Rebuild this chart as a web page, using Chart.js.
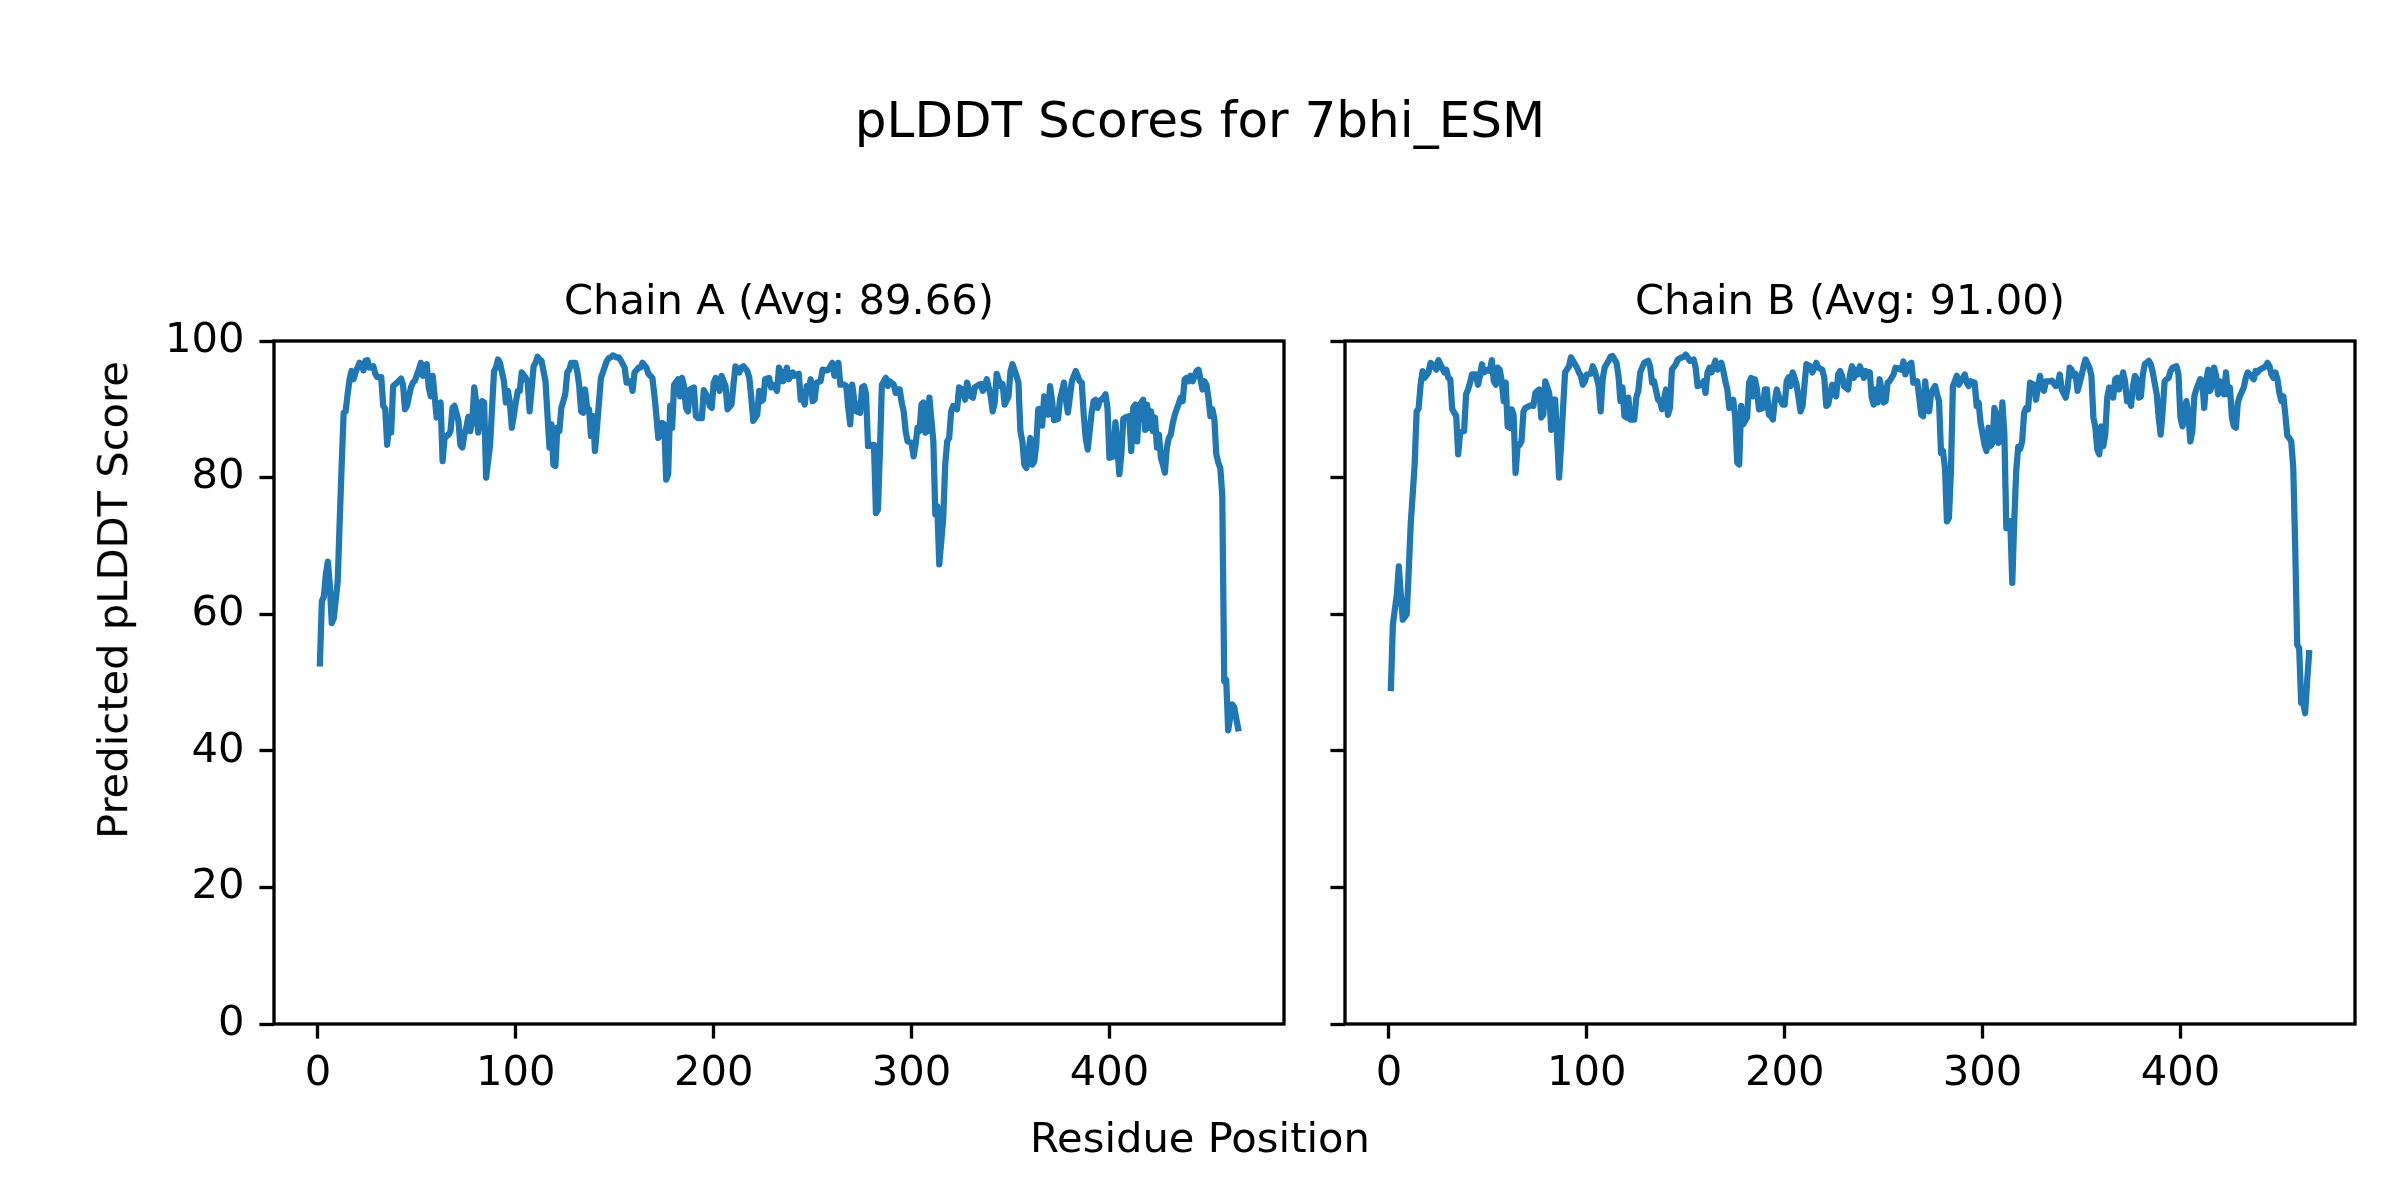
<!DOCTYPE html>
<html>
<head>
<meta charset="utf-8">
<title>pLDDT Scores for 7bhi_ESM</title>
<script src="https://cdn.jsdelivr.net/npm/chart.js"></script>
<style>
  html, body { margin: 0; padding: 0; background: #fff; }
  #page { position: relative; width: 2400px; height: 1200px; overflow: hidden; font-family: "DejaVu Sans", sans-serif; color: #000; }
  canvas { position: absolute; top: 0; }
  #chartA { left: 0; }
  #chartB { left: 1300px; }
  .label { position: absolute; white-space: nowrap; }
  #suptitle { left: 0; width: 2400px; text-align: center; top: 94.7px; font-size: 50px; line-height: 50px; }
  #xlabel { left: 0; width: 2400px; text-align: center; top: 1116.8px; font-size: 41.67px; line-height: 41.67px; }
  #ylabel { left: 113.3px; top: 600px; font-size: 41.67px; line-height: 41.67px; transform: translate(-50%, -50%) rotate(-90deg); }
</style>
</head>
<body>
<div id="page">
  <div class="label" id="suptitle">pLDDT Scores for 7bhi_ESM</div>
  <canvas id="chartA" width="1300" height="1200"></canvas>
  <canvas id="chartB" width="1100" height="1200"></canvas>
  <div class="label" id="ylabel">Predicted pLDDT Score</div>
  <div class="label" id="xlabel">Residue Position</div>
</div>
<script>
// data
const chainTitles = ['Chain A (Avg: 89.66)', 'Chain B (Avg: 91.00)'];
const xTicks = [0, 100, 200, 300, 400];
const yTicks = [0, 20, 40, 60, 80, 100];

const chainAPos = [1,2,3,4,5,6,7,8,10,11,12,13,14,15,16,17,18,19,21,22,23,24,25,26,28,29,30,32,33,34,35,36,37,38,40,42,43,44,45,47,48,49,51,52,53,54,55,56,57,58,60,61,62,63,64,66,67,68,69,71,72,73,74,75,76,77,78,79,80,81,83,84,85,87,89,90,91,92,94,95,96,97,98,100,101,102,103,105,106,107,109,110,111,112,113,115,116,117,118,119,120,121,122,123,125,126,127,128,130,131,132,133,134,135,136,137,138,139,140,141,143,144,146,147,148,149,151,152,153,155,156,158,159,160,162,163,164,166,167,169,170,171,172,173,174,175,176,177,178,179,180,182,183,184,185,186,187,188,190,191,192,194,195,197,198,199,200,201,203,204,205,206,207,209,210,211,213,214,215,217,218,219,220,222,223,224,225,226,228,229,230,232,233,234,235,237,238,240,241,243,244,245,246,247,248,249,250,251,252,254,255,257,258,260,261,262,263,264,266,267,268,269,270,271,272,274,275,276,277,278,280,281,282,283,284,285,287,288,289,291,292,293,294,295,296,297,298,300,301,302,303,304,305,306,307,308,309,311,312,313,314,316,317,318,319,320,321,323,324,326,327,328,330,331,332,334,335,336,337,338,340,341,342,343,345,346,347,349,350,351,353,354,355,356,357,358,360,361,362,363,364,365,366,367,368,369,370,371,372,374,375,377,378,379,381,382,383,385,386,387,388,389,391,392,393,394,395,397,398,399,400,402,403,404,405,406,407,408,410,411,412,413,414,415,417,418,419,420,421,422,423,424,425,426,427,428,429,430,431,432,433,434,436,437,438,439,440,441,442,444,445,446,447,448,449,450,451,452,453,454,455,456,457,458,459,460,462,463,465];
const chainAScore = [52.8,61.9,62.6,65.8,67.7,64.3,58.7,59.4,64.8,73.6,81.9,89.5,89.7,92.2,94.4,95.6,94.4,95.4,96.8,96.6,95.7,97.1,97.2,96.1,96.3,95.2,94.7,94.7,90.5,90.1,84.8,87.8,86.6,93.4,93.9,94.5,93.6,90.0,90.5,93.2,93.9,94.2,95.8,96.8,94.9,96.3,96.6,93.2,91.9,94.9,88.8,90.7,91.0,82.4,85.8,86.3,86.8,90.2,90.5,88.3,84.8,84.4,86.3,87.3,88.9,86.8,88.3,93.2,91.0,86.6,91.2,91.0,80.0,84.8,95.6,96.1,97.3,96.8,94.1,91.0,92.7,91.0,87.3,91.0,92.7,92.7,95.4,94.6,93.9,89.7,96.3,96.8,97.7,97.3,97.1,94.1,89.2,84.4,87.8,81.9,81.7,87.3,86.8,90.2,92.2,95.4,95.8,96.8,96.8,95.6,93.6,89.7,89.5,92.9,90.2,90.0,86.1,89.0,83.9,87.3,94.6,95.4,97.1,97.5,97.6,97.9,97.6,97.6,97.2,96.1,93.9,94.1,92.7,95.4,96.1,96.1,96.8,96.1,95.2,94.6,92.2,89.2,85.8,86.3,88.0,87.8,79.7,80.5,90.5,87.3,93.6,94.4,91.9,94.6,93.4,90.2,89.7,92.9,93.2,89.0,88.7,88.7,92.8,91.7,90.5,90.2,93.9,94.6,92.7,94.9,94.1,93.4,90.0,90.7,93.6,96.3,95.4,96.1,96.3,95.6,94.6,91.7,88.3,89.2,92.7,91.2,91.4,94.4,94.6,93.2,93.6,92.7,96.1,95.4,94.1,96.1,94.4,95.4,94.9,95.2,91.4,91.7,90.7,93.4,92.9,94.4,91.2,91.4,93.9,94.1,95.8,95.7,95.8,96.8,94.9,95.7,96.8,93.6,93.6,93.4,90.2,87.8,93.6,91.4,89.7,89.5,93.2,93.4,92.2,84.6,84.8,84.8,74.8,75.3,83.9,93.6,94.6,93.4,94.1,93.6,92.4,92.9,92.9,91.0,89.7,86.8,85.3,85.1,83.1,84.8,87.3,86.8,90.7,91.0,86.6,86.8,91.7,85.3,74.6,75.8,67.3,74.1,81.9,85.3,85.8,89.7,90.5,90.0,93.2,92.8,91.4,93.9,91.9,91.7,93.2,93.6,93.7,92.7,93.4,94.4,91.9,89.7,91.0,95.2,93.4,93.7,90.7,91.9,95.6,96.6,94.9,93.9,86.8,85.3,81.9,81.4,85.8,81.9,82.4,84.8,90.0,90.1,87.6,91.9,91.7,89.2,93.4,91.2,88.4,88.6,91.4,93.9,91.4,89.5,94.1,94.9,95.6,94.1,93.9,89.2,85.8,84.1,89.5,91.2,91.4,90.2,91.2,91.7,92.2,90.2,82.9,83.1,88.1,84.4,80.5,83.4,88.6,88.8,89.0,83.9,90.2,90.7,85.3,90.5,91.4,87.0,90.7,87.3,89.7,86.8,88.8,84.4,86.3,82.9,81.9,80.7,84.4,85.8,86.3,88.0,89.2,90.0,91.7,91.2,94.4,94.6,94.1,94.9,94.1,95.6,95.8,94.4,92.9,94.1,93.6,91.7,89.0,90.0,88.6,83.4,82.2,81.4,77.5,50.2,50.4,43.0,46.8,46.4,43.3];

const chainBPos = [1,2,4,5,6,7,9,10,11,13,14,15,16,17,18,20,21,22,24,25,26,28,29,30,31,32,34,35,36,38,39,40,41,42,44,45,46,47,48,50,51,52,53,54,55,56,57,58,59,60,61,62,63,64,65,66,67,68,69,71,72,73,74,75,76,77,78,79,81,82,83,84,86,87,89,91,92,94,95,96,97,98,99,100,102,103,104,105,106,107,108,109,111,112,113,115,116,117,118,119,120,121,122,124,125,126,127,128,129,131,132,133,134,136,137,138,140,141,142,143,145,146,148,149,150,151,152,154,155,156,158,159,160,161,162,163,165,166,168,169,170,171,172,174,175,176,177,178,179,181,182,183,184,185,186,187,189,190,191,192,193,194,195,196,197,199,200,201,202,203,204,205,206,208,209,210,211,213,214,216,217,219,220,221,222,223,224,225,226,227,228,229,230,232,233,234,235,236,237,238,240,241,242,243,244,245,246,247,248,250,251,252,253,255,256,257,259,260,261,262,264,265,266,267,268,269,270,271,272,273,274,276,277,278,279,280,281,282,283,284,285,287,288,289,291,292,293,294,296,297,298,299,301,302,303,304,305,306,307,308,309,310,311,312,314,315,316,317,318,319,320,321,322,323,324,326,327,329,330,331,332,334,335,337,338,339,340,342,343,344,345,346,347,348,350,351,352,354,355,356,357,358,359,360,361,362,363,364,365,366,367,368,369,371,372,373,374,375,376,377,378,379,380,381,382,384,385,386,388,389,390,391,392,393,394,395,396,398,399,400,401,403,404,405,406,407,408,410,411,412,413,414,415,416,417,418,419,420,421,422,423,424,425,426,427,428,429,430,432,433,434,435,437,438,439,440,442,443,444,445,446,447,448,449,450,451,452,453,454,455,456,457,458,459,460,461,462,463,464,465];
const chainBScore = [49.2,58.5,62.9,67.0,62.9,59.2,60.0,66.3,73.1,81.9,89.7,90.1,93.6,95.6,94.6,95.4,96.8,96.6,95.8,97.2,96.6,95.4,95.8,94.6,94.4,90.0,89.0,83.4,86.6,86.8,92.2,92.9,93.9,95.1,95.1,93.6,94.9,96.6,95.4,95.8,95.6,97.2,94.1,93.6,96.1,95.8,94.1,91.2,93.9,87.5,87.3,90.0,89.2,80.7,84.6,84.8,85.3,89.7,90.2,90.5,90.6,90.5,92.4,92.7,92.9,88.8,89.2,94.1,92.4,87.0,91.4,91.4,80.0,84.8,95.4,96.3,97.6,96.6,96.1,95.4,94.9,93.6,94.1,95.1,95.2,96.3,95.6,94.6,93.4,89.7,94.4,96.1,97.1,97.7,97.8,96.8,94.9,91.2,93.2,89.0,88.8,91.7,88.5,88.5,91.7,92.7,95.4,96.1,96.8,97.1,96.3,93.9,94.1,91.4,91.2,90.0,92.9,89.2,90.2,95.8,96.6,97.3,97.6,97.7,98.0,97.6,97.1,97.3,96.1,93.4,93.6,94.1,92.4,95.4,96.1,95.4,97.1,95.8,96.8,95.6,94.1,92.9,90.2,91.4,88.8,82.2,81.9,90.5,87.8,88.8,93.9,94.6,91.9,94.4,92.9,90.0,90.2,92.9,92.9,89.2,89.0,88.5,91.2,92.9,91.9,90.7,90.7,94.1,94.7,93.4,95.4,94.6,93.6,89.7,90.5,93.6,96.6,96.3,95.4,96.8,96.1,95.8,94.6,90.5,90.7,92.2,93.6,92.2,91.9,95.1,95.6,94.9,93.4,92.9,95.1,96.3,94.6,95.8,95.1,96.3,94.6,95.6,95.1,95.4,91.7,90.7,92.9,91.0,94.4,91.0,91.2,93.9,94.1,95.1,96.1,96.0,95.8,97.0,95.1,96.3,96.8,93.9,93.9,94.1,91.7,89.2,89.0,94.1,91.2,89.7,92.4,93.4,92.2,91.2,83.6,83.9,81.4,73.6,74.1,80.9,93.4,94.9,93.6,94.1,95.1,93.9,93.4,94.1,93.9,90.5,91.0,88.0,84.8,83.9,87.3,84.6,85.1,90.2,89.2,85.1,85.3,91.0,86.5,72.6,73.6,64.6,73.6,80.9,84.5,84.2,85.3,89.5,90.2,90.0,93.9,93.6,91.4,94.9,93.4,92.7,94.1,94.1,94.2,93.4,93.6,95.1,92.9,91.7,93.2,96.1,95.8,94.9,95.2,92.7,94.9,96.3,97.3,96.1,94.9,88.8,87.3,84.1,83.4,87.5,84.6,86.3,91.7,93.2,92.9,91.7,94.4,94.6,92.9,95.4,94.1,91.2,91.7,90.5,93.4,94.9,94.4,91.7,91.9,95.1,96.6,97.1,96.6,95.4,92.2,88.8,86.3,89.7,94.1,94.4,94.6,95.6,96.1,96.3,95.1,88.8,87.5,91.2,89.0,85.3,86.8,91.9,92.9,94.4,94.1,90.2,94.1,95.8,92.7,93.6,96.1,94.9,92.2,94.1,92.9,92.2,95.4,92.2,93.2,88.8,87.5,87.3,91.0,91.9,93.2,94.6,95.4,95.1,94.4,95.6,95.4,95.8,96.1,96.3,96.8,96.3,95.1,94.6,95.4,94.4,92.4,91.2,91.9,89.2,86.1,85.8,85.3,81.4,69.7,55.5,55.0,47.0,47.0,45.5,50.1,54.3];

// matplotlib look, figure is 8x4 in at 300 dpi
const PT = 300 / 72;
const lineBlue = '#1f77b4';
Chart.defaults.font.family = 'DejaVu Sans';
Chart.defaults.color = '#000';

// draws the four spines around the plot area
const framePlugin = {
    id: 'frame',
    afterDraw(chart) {
        const a = chart.chartArea;
        const ctx = chart.ctx;
        ctx.save();
        ctx.strokeStyle = '#000';
        ctx.lineWidth = 0.8 * PT;
        ctx.strokeRect(a.left, a.top, a.right - a.left, a.bottom - a.top);
        ctx.restore();
    }
};

function makeChart(canvasId, title, pos, score, yAxisWidth, rightPad, showYLabels) {
    const points = pos.map((p, i) => ({ x: p, y: score[i] }));
    const tickFont = { family: 'DejaVu Sans', size: 10 * PT };

    return new Chart(document.getElementById(canvasId), {
        type: 'line',
        data: {
            datasets: [{
                data: points,
                borderColor: lineBlue,
                borderWidth: 1.5 * PT,
                borderJoinStyle: 'round',
                borderCapStyle: 'square',
                pointRadius: 0,
                tension: 0,
                fill: false
            }]
        },
        options: {
            responsive: false,
            animation: false,
            devicePixelRatio: 1,
            layout: { padding: { left: 0, right: rightPad, top: 0, bottom: 0 } },
            plugins: {
                legend: { display: false },
                tooltip: { enabled: false },
                title: {
                    display: true,
                    text: title,
                    fullSize: false,
                    color: '#000',
                    font: { family: 'DejaVu Sans', size: 10 * PT, weight: 'normal', lineHeight: 1.2 },
                    padding: { top: 278.6, bottom: 12.4 }
                }
            },
            scales: {
                x: {
                    type: 'linear',
                    min: -22.2,
                    max: 488.2,
                    afterBuildTicks: s => { s.ticks = xTicks.map(v => ({ value: v })); },
                    afterFit: s => { s.height = 176; },
                    border: { display: false },
                    grid: { drawOnChartArea: false, drawTicks: true, tickLength: 3.5 * PT, tickWidth: 0.8 * PT, tickColor: '#000' },
                    ticks: { font: tickFont, color: '#000', padding: 11, maxRotation: 0, autoSkip: false }
                },
                y: {
                    min: 0,
                    max: 100,
                    afterBuildTicks: s => { s.ticks = yTicks.map(v => ({ value: v })); },
                    afterFit: s => { s.width = yAxisWidth; },
                    border: { display: false },
                    grid: { drawOnChartArea: false, drawTicks: true, tickLength: 3.5 * PT, tickWidth: 0.8 * PT, tickColor: '#000' },
                    ticks: {
                        font: tickFont,
                        color: '#000',
                        padding: 15,
                        autoSkip: false,
                        callback: v => showYLabels ? v : ''
                    }
                }
            }
        },
        plugins: [framePlugin]
    });
}

makeChart('chartA', chainTitles[0], chainAPos, chainAScore, 274, 16, true);
makeChart('chartB', chainTitles[1], chainBPos, chainBScore, 45, 45, false);
</script>
</body>
</html>
